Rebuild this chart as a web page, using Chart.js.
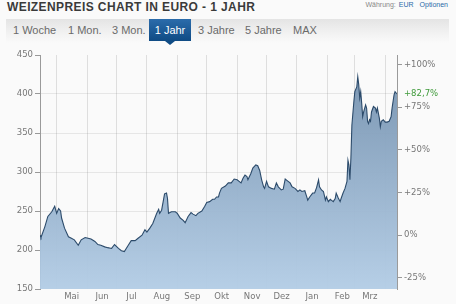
<!DOCTYPE html>
<html lang="de">
<head>
  <meta charset="UTF-8" />
  <title>Weizenpreis Chart in Euro - 1 Jahr</title>
  <script src="https://cdn.jsdelivr.net/npm/chart.js"></script>
  <style>
    html, body {
      margin: 0;
      padding: 0;
      width: 456px;
      height: 304px;
      overflow: hidden;
      background: #fafafa;
      font-family: 'Liberation Sans', Arial, sans-serif;
    }
    .title {
      position: absolute;
      left: 7px;
      top: 0px;
      font-size: 12px;
      letter-spacing: 0.4px;
      font-weight: bold;
      color: #3a3a3a;
      white-space: nowrap;
    }
    .currency {
      position: absolute;
      right: 8px;
      top: 1px;
      font-size: 7px;
      color: #888;
    }
    .currency span { color: #2a6aa8; margin-left: 3px; }
    .tabs {
      position: absolute;
      left: 6px;
      top: 19px;
      width: 443px;
      height: 24px;
      background: linear-gradient(#e4e4e4, #f2f2f2 60%, #fafafa);
    }
    .tab {
      position: absolute;
      top: 0;
      height: 22px;
      line-height: 22px;
      font-size: 11px;
      color: #6a6a6a;
      white-space: nowrap;
    }
    .tab.active {
      background: linear-gradient(#2b6cab, #0f4b84);
      color: #fff;
      text-align: center;
    }
    .tab.active:after {
      content: '';
      position: absolute;
      left: 16px;
      top: 22px;
      border-left: 5px solid transparent;
      border-right: 5px solid transparent;
      border-top: 4px solid #0f4b84;
    }
    .chart-box {
      position: absolute;
      left: 0;
      top: 45px;
      width: 456px;
      height: 259px;
    }
  </style>
</head>
<body>

  <div class="title">WEIZENPREIS CHART IN EURO - 1 JAHR</div>
  <div class="currency">Währung:<span>EUR</span><span style="margin-left:6px">Optionen</span></div>

  <div class="tabs">
    <div class="tab" style="left:7px">1 Woche</div>
    <div class="tab" style="left:62px">1 Mon.</div>
    <div class="tab" style="left:106px">3 Mon.</div>
    <div class="tab active" style="left:143px;width:42px">1 Jahr</div>
    <div class="tab" style="left:192px">3 Jahre</div>
    <div class="tab" style="left:239px">5 Jahre</div>
    <div class="tab" style="left:287px">MAX</div>
  </div>

  <div class="chart-box">
    <canvas id="wheatChart"></canvas>
  </div>

  <script>
    // Tage seit 14.04.2021 und Schlusskurse (EUR/t)
    const days = [
      0, 1, 5, 8, 12, 15, 17, 19, 21, 22, 25, 29, 32, 35, 39, 42, 46, 49, 52, 56,
      59, 62, 66, 69, 73, 76, 80, 83, 86, 90, 93, 97, 100, 104, 107, 109, 112, 115, 119, 121,
      122, 124, 127, 129, 130, 131, 134, 138, 140, 143, 146, 148, 151, 154, 156, 159, 161, 165, 168, 170,
      173, 176, 178, 180, 182, 183, 185, 189, 192, 195, 198, 201, 203, 205, 207, 209, 211, 212, 215, 217,
      220, 222, 224, 226, 228, 229, 231, 233, 236, 239, 241, 243, 246, 248, 250, 252, 255, 257, 260, 263,
      265, 267, 270, 272, 273, 275, 278, 280, 282, 284, 285, 287, 289, 291, 292, 294, 296, 297, 299, 301,
      302, 304, 306, 307, 309, 311, 313, 314, 315, 316, 317, 318, 320, 321, 323, 324, 325, 326, 327, 328,
      329, 330, 332, 333, 334, 335, 336, 337, 338, 340, 342, 343, 344, 346, 347, 348, 350, 352, 354, 356,
      358, 359, 361, 362, 364
    ];
    const prices = [
      218.9, 216, 230, 243, 249, 256, 247, 253, 250, 241, 228, 217, 215, 213, 206, 213, 216, 215, 214, 211,
      207, 206, 204, 203, 202, 207, 202, 199, 198, 206, 212, 212, 215, 219, 226, 223, 228, 234, 247, 252,
      247, 251, 272, 273, 266, 247, 249, 249, 247, 241, 238, 235, 243, 248, 246, 244, 247, 250, 256, 261,
      262, 265, 265, 268, 268, 273, 279, 282, 286, 286, 291, 290, 288, 286, 292, 296, 294, 290, 298, 305,
      309, 308, 302, 290, 281, 279, 288, 281, 279, 278, 286, 281, 277, 278, 291, 289, 286, 281, 279, 275,
      277, 275, 276, 268, 264, 268, 273, 273, 280, 290, 281, 277, 275, 264, 268, 262, 265, 264, 262, 266,
      273, 267, 262, 266, 273, 279, 288, 315, 309, 290, 318, 360, 390, 403, 409, 422, 412, 395, 403, 388,
      371, 377, 386, 382, 365, 362, 367, 365, 377, 384, 382, 377, 382, 369, 358, 365, 367, 364, 364, 365,
      371, 382, 399, 403, 400
    ];

    // Monatsanfänge (Tage) und Beschriftungen
    const monthStarts = [17, 48, 78, 109, 140, 170, 201, 231, 262, 293, 321, 352];
    const monthLabels = ['Mai', 'Jun', 'Jul', 'Aug', 'Sep', 'Okt', 'Nov', 'Dez', 'Jan', 'Feb', 'Mrz', ''];

    const priceTicks = [150, 200, 250, 300, 350, 400, 450];
    const pctValues = [-25, 0, 25, 50, 75, 82.7, 100];
    const pctLabels = ['-25%', '0%', '+25%', '+50%', '+75%', '+82,7%', '+100%'];

    const basePrice = prices[0];
    const tickFont = { family: 'DejaVu Sans', size: 8.5 };

    const ctx = document.getElementById('wheatChart').getContext('2d');

    new Chart(ctx, {
      type: 'line',
      data: {
        datasets: [{
          data: days.map((d, i) => ({ x: d, y: prices[i] })),
          borderColor: '#2c4b6b',
          borderWidth: 1.1,
          pointRadius: 0,
          tension: 0,
          fill: 'start',
          backgroundColor: function(context) {
            const chart = context.chart;
            const area = chart.chartArea;
            if (!area) return 'rgba(140,170,200,0.9)';
            const g = chart.ctx.createLinearGradient(0, area.top, 0, area.bottom);
            g.addColorStop(0, 'rgba(112,141,171,0.95)');
            g.addColorStop(1, 'rgba(178,204,229,0.95)');
            return g;
          }
        }]
      },
      options: {
        responsive: true,
        maintainAspectRatio: false,
        animation: false,
        layout: { padding: { top: 10, left: 0, right: 0, bottom: 0 } },
        plugins: {
          legend: { display: false },
          tooltip: { enabled: false }
        },
        scales: {
          x: {
            type: 'linear',
            min: 0,
            max: 364,
            z: 1,
            afterBuildTicks: function(scale) {
              scale.ticks = monthStarts.map(v => ({ value: v }));
            },
            afterFit: function(scale) { scale.height = 15; },
            grid: {
              color: 'rgba(0,0,0,0.11)',
              drawTicks: false
            },
            border: { display: false },
            ticks: {
              autoSkip: false,
              maxRotation: 0,
              labelOffset: 15,
              padding: 3,
              color: '#777',
              font: tickFont,
              callback: function(value, index) { return monthLabels[index]; }
            }
          },
          y: {
            position: 'left',
            min: 150,
            max: 450,
            afterBuildTicks: function(scale) {
              scale.ticks = priceTicks.map(v => ({ value: v }));
            },
            afterFit: function(scale) { scale.width = 40; },
            grid: {
              color: function(c) {
                return (c.tick && (c.tick.value === 150 || c.tick.value === 450)) ? 'rgba(0,0,0,0)' : 'rgba(0,0,0,0.08)';
              },
              tickColor: '#999',
              tickLength: 5
            },
            border: { display: true, color: '#9a9a9a' },
            ticks: {
              padding: 2,
              color: '#777',
              font: tickFont
            }
          },
          yPct: {
            position: 'right',
            min: 150,
            max: 450,
            afterBuildTicks: function(scale) {
              scale.ticks = pctValues.map(p => ({ value: basePrice * (1 + p / 100) }));
            },
            afterFit: function(scale) { scale.width = 59; },
            grid: {
              drawOnChartArea: false,
              tickLength: 5,
              tickColor: function(c) { return c.index === 5 ? 'rgba(0,0,0,0)' : '#999'; }
            },
            border: { display: true, color: '#9a9a9a' },
            ticks: {
              padding: 2,
              font: tickFont,
              color: function(c) { return c.index === 5 ? '#3f9a3a' : '#777'; },
              callback: function(value, index) { return pctLabels[index]; }
            }
          }
        }
      }
    });
  </script>
</body>
</html>
